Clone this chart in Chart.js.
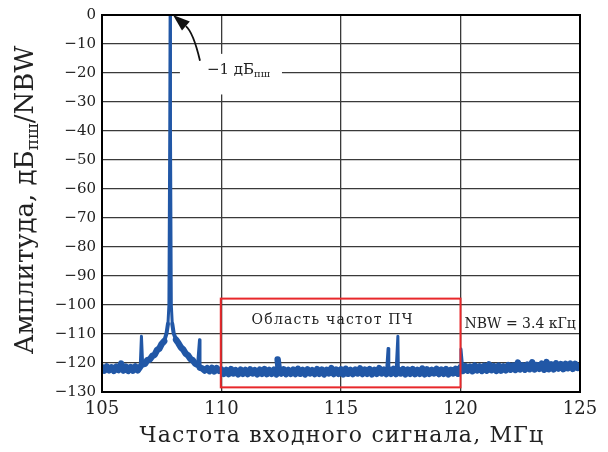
<!DOCTYPE html>
<html>
<head>
<meta charset="utf-8">
<script src="https://cdn.jsdelivr.net/npm/chart.js@4"></script>
<style>
  body { margin: 0; background: #fff; }
  #wrap { width: 608px; height: 452px; position: relative; }
</style>
</head>
<body>
<div id="wrap"><canvas id="grafico"></canvas></div>
<script>
// noise floor, MHz / dB
const freqFloor = [
  105.0,105.1,105.2,105.3,105.4,105.5,105.6,105.7,105.8,105.9,
  106.0,106.1,106.2,106.3,106.4,106.5,106.6,106.7,106.8,106.9,
  107.0,107.1,107.2,107.3,107.4,107.5,107.6,107.7,
  108.0,108.1,108.2,108.3,108.4,108.5,108.6,108.7,108.8,108.9,
  109.0,109.1,109.2,109.3,109.4,109.5,109.6,109.7,109.8,109.9,
  110.0,110.1,110.2,110.3,110.4,110.5,110.6,110.7,110.8,110.9,
  111.0,111.1,111.2,111.3,111.4,111.5,111.6,111.7,111.8,111.9,
  112.0,112.1,112.2,112.3,112.4,112.5,112.6,112.7,112.8,112.9,
  113.0,113.1,113.2,113.3,113.4,113.5,113.6,113.7,113.8,113.9,
  114.0,114.1,114.2,114.3,114.4,114.5,114.6,114.7,114.8,114.9,
  115.0,115.1,115.2,115.3,115.4,115.5,115.6,115.7,115.8,115.9,
  116.0,116.1,116.2,116.3,116.4,116.5,116.6,116.7,116.8,116.9,
  117.0,117.1,117.2,117.3,117.4,117.5,117.6,117.7,117.8,117.9,
  118.0,118.1,118.2,118.3,118.4,118.5,118.6,118.7,118.8,118.9,
  119.0,119.1,119.2,119.3,119.4,119.5,119.6,119.7,119.8,119.9,
  120.0,120.1,120.2,120.3,120.4,120.5,120.6,120.7,120.8,120.9,
  121.0,121.1,121.2,121.3,121.4,121.5,121.6,121.7,121.8,121.9,
  122.0,122.1,122.2,122.3,122.4,122.5,122.6,122.7,122.8,122.9,
  123.0,123.1,123.2,123.3,123.4,123.5,123.6,123.7,123.8,123.9,
  124.0,124.1,124.2,124.3,124.4,124.5,124.6,124.7,124.8,124.9,
  125.0
];
const ampFloor = [
  -121.4,-122.6,-121.2,-122.5,-121.5,-122.7,-121.3,-122.4,-120.2,-122.6,
  -121.3,-122.7,-121.4,-122.6,-121.2,-122.5,-121.3,-120.4,-120.3,-119.0,
  -118.8,-117.6,-117.2,-115.6,-115.0,-113.4,-112.5,-109.8,
  -109.8,-112.0,-113.2,-114.6,-115.4,-116.8,-117.4,-118.6,-119.1,-120.2,
  -120.6,-121.6,-121.9,-122.6,-121.8,-122.8,-121.7,-122.9,-121.8,-122.7,
  -122.3,-123.7,-122.4,-123.8,-122.1,-123.6,-122.5,-123.9,-122.3,-123.7,
  -122.4,-123.8,-122.2,-123.6,-122.5,-123.9,-122.3,-123.7,-122.1,-123.8,
  -122.4,-123.7,-122.3,-123.9,-122.5,-123.6,-122.2,-123.8,-122.4,-123.7,
  -122.3,-123.8,-122.0,-123.7,-122.4,-123.9,-122.2,-123.6,-122.5,-123.8,
  -122.1,-123.7,-122.3,-123.9,-122.4,-123.6,-121.8,-123.8,-122.3,-123.7,
  -122.2,-123.9,-122.0,-123.7,-122.4,-123.8,-122.3,-123.6,-121.9,-123.8,
  -122.3,-123.7,-122.1,-123.9,-122.4,-123.7,-121.8,-123.6,-122.3,-123.8,
  -122.2,-123.7,-122.0,-123.8,-122.3,-123.6,-122.1,-123.9,-122.3,-123.7,
  -122.1,-123.8,-122.4,-123.7,-121.9,-123.9,-122.2,-123.7,-122.4,-123.6,
  -122.0,-123.8,-122.3,-123.7,-122.1,-123.9,-122.4,-123.6,-122.0,-123.7,
  -121.5,-122.7,-121.1,-122.6,-121.3,-122.8,-120.9,-122.5,-121.2,-122.7,
  -121.0,-122.6,-120.5,-122.5,-121.1,-122.7,-120.9,-122.6,-121.2,-122.5,
  -120.7,-122.3,-120.9,-122.4,-119.9,-122.2,-120.8,-122.3,-120.6,-122.1,
  -119.8,-122.2,-120.7,-122.0,-120.2,-122.3,-119.7,-122.1,-120.5,-122.2,
  -120.1,-121.9,-120.4,-122.1,-120.3,-121.8,-120.2,-122.0,-120.3,-121.7,
  -121.0
];
// carrier and spurs
const freqPeaks = [106.65, 107.76, 107.80, 107.835, 107.85, 107.865, 107.90, 107.94, 109.08, 112.35, 116.97, 117.38, 120.02];
const ampPeaks  = [-110.8, -106.5, -100.0, -40.0, 0.0, -40.0, -100.0, -106.5, -112.0, -118.8, -115.0, -110.8, -115.2];

const xTicks = [105, 110, 115, 120, 125];
const yMin = -130, yMax = 0;

const points = freqFloor.map((f, i) => ({ x: f, y: ampFloor[i] }))
  .concat(freqPeaks.map((f, i) => ({ x: f, y: ampPeaks[i] })))
  .sort((a, b) => a.x - b.x);

const serif = '"DejaVu Serif", serif';

// thin line on steep parts, thick band on the noise floor
function segWidth(c) {
  const y0 = c.p0.parsed.y, y1 = c.p1.parsed.y;
  if (Math.abs(y1 - y0) > 4) return 3;
  if (Math.max(y0, y1) > -112) return 4;
  return 6.5;
}

const decor = {
  id: 'decor',
  afterDraw(chart) {
    const ctx = chart.ctx;
    const xs = chart.scales.x, ys = chart.scales.y;
    const a = chart.chartArea;
    const px = v => xs.getPixelForValue(v), py = v => ys.getPixelForValue(v);
    ctx.save();

    // frame
    ctx.strokeStyle = '#000';
    ctx.lineWidth = 2;
    ctx.strokeRect(a.left, a.top, a.right - a.left, a.bottom - a.top);

    // IF region box
    ctx.strokeStyle = '#e8282b';
    ctx.lineWidth = 2;
    ctx.strokeRect(px(109.97), py(-97.8), px(120.0) - px(109.97), py(-128.4) - py(-97.8));

    ctx.fillStyle = '#222';
    ctx.font = '14px ' + serif;
    ctx.textBaseline = 'middle';
    ctx.textAlign = 'center';
    ctx.letterSpacing = '1.2px';
    ctx.fillText('Область частот ПЧ', px(114.65), py(-105.3));
    ctx.letterSpacing = '0px';
    ctx.textAlign = 'left';
    ctx.fillText('NBW = 3.4 кГц', px(120.17), py(-106.8));

    // label -1 dB
    ctx.fillStyle = '#fff';
    ctx.fillRect(px(108.26), py(-13.4), px(112.53) - px(108.26), py(-27.4) - py(-13.4));
    ctx.fillStyle = '#222';
    ctx.textBaseline = 'alphabetic';
    ctx.font = '15px ' + serif;
    const tx = px(109.39), ty = py(-20.5);
    ctx.fillText('−1 дБ', tx, ty);
    const w = ctx.measureText('−1 дБ').width;
    ctx.font = '10px ' + serif;
    ctx.fillText('пш', tx + w, ty + 3);

    // arrow
    const s = [px(109.10), py(-15.75)], c = [px(108.82), py(-6.0)], t = [px(107.97), py(0)];
    const ang = Math.atan2(t[1] - c[1], t[0] - c[0]);
    const hl = 17, hw = 6;
    const hb = [t[0] - hl * Math.cos(ang), t[1] - hl * Math.sin(ang)];
    ctx.strokeStyle = '#111';
    ctx.lineWidth = 1.8;
    ctx.beginPath();
    ctx.moveTo(s[0], s[1]);
    ctx.quadraticCurveTo(c[0], c[1], hb[0], hb[1]);
    ctx.stroke();
    ctx.fillStyle = '#111';
    ctx.beginPath();
    ctx.moveTo(t[0], t[1]);
    ctx.lineTo(hb[0] + hw * Math.sin(ang), hb[1] - hw * Math.cos(ang));
    ctx.lineTo(hb[0] - hw * Math.sin(ang), hb[1] + hw * Math.cos(ang));
    ctx.closePath();
    ctx.fill();

    // axis titles
    ctx.fillStyle = '#222';
    ctx.font = '22px ' + serif;
    ctx.textAlign = 'center';
    ctx.letterSpacing = '1.2px';
    ctx.fillText('Частота входного сигнала, МГц', 342, 442);
    ctx.letterSpacing = '0px';

    ctx.translate(33, 200);
    ctx.rotate(-Math.PI / 2);
    const main = 'Амплитуда, дБ', sub = 'пш', tail = '/NBW';
    ctx.font = '26px ' + serif;
    const w1 = ctx.measureText(main).width, w3 = ctx.measureText(tail).width;
    ctx.font = '17px ' + serif;
    const w2 = ctx.measureText(sub).width;
    let x0 = -(w1 + w2 + w3) / 2;
    ctx.textAlign = 'left';
    ctx.font = '26px ' + serif;
    ctx.fillText(main, x0, 0);
    ctx.font = '17px ' + serif;
    ctx.fillText(sub, x0 + w1, 5);
    ctx.font = '26px ' + serif;
    ctx.fillText(tail, x0 + w1 + w2, 0);
    ctx.restore();
  }
};

const config = {
  type: 'line',
  data: {
    datasets: [{
      data: points,
      borderColor: '#2157a6',
      borderWidth: 3,
      borderJoinStyle: 'round',
      borderCapStyle: 'round',
      pointRadius: 0,
      tension: 0,
      segment: { borderWidth: segWidth }
    }]
  },
  options: {
    responsive: true,
    maintainAspectRatio: false,
    animation: false,
    layout: { padding: { left: 0, top: 13, right: 28, bottom: 0 } },
    plugins: { legend: { display: false }, tooltip: { enabled: false } },
    scales: {
      x: {
        type: 'linear',
        min: 105, max: 125,
        afterBuildTicks: s => { s.ticks = xTicks.map(v => ({ value: v })); },
        afterFit: s => { s.height = 60; },
        grid: { color: '#3a3a3a', lineWidth: 1.3, drawTicks: false },
        border: { color: '#000', width: 2 },
        ticks: { color: '#222', padding: 7, font: { family: serif, size: 18 } }
      },
      y: {
        min: yMin, max: yMax,
        afterFit: s => { s.width = 102; },
        grid: { color: '#3a3a3a', lineWidth: 1.3, drawTicks: false },
        border: { color: '#000', width: 2 },
        ticks: {
          stepSize: 10, color: '#222', padding: 6,
          font: { family: serif, size: 15 },
          callback: v => String(v).replace('-', '−')
        }
      }
    }
  },
  plugins: [decor]
};

const grafico = new Chart(document.getElementById('grafico'), config);
</script>
</body>
</html>
